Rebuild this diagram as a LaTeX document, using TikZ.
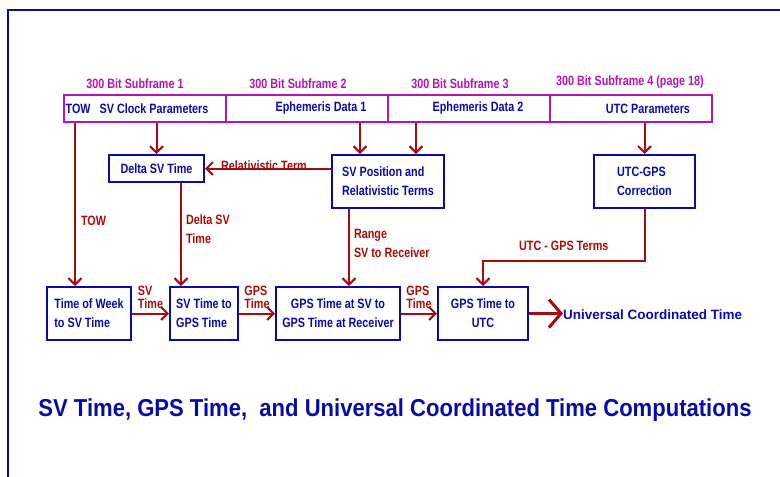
\documentclass[tikz,border=0pt]{standalone}
\usepackage{fontspec}
\setmainfont{Liberation Sans}
\newfontfamily\narrowsans[FakeStretch=0.8]{Liberation Sans}
\newfontfamily\titlesans[FakeStretch=0.9]{Liberation Sans}
\usepackage{xcolor}
\definecolor{boxblue}{RGB}{10,10,170}
\definecolor{linered}{RGB}{170,10,10}
\definecolor{framemag}{RGB}{180,20,180}
\usetikzlibrary{arrows.meta,positioning}
\tikzset{
  block/.style={draw=boxblue,line width=2pt,text=boxblue,fill=white,%
    font=\narrowsans\fontsize{13.5}{19}\selectfont\bfseries,inner sep=2pt,align=left},
  cell/.style={draw=framemag,line width=2pt,minimum width=162pt,%
    minimum height=27pt,inner sep=0pt},
  celltext/.style={text=boxblue,font=\narrowsans\fontsize{13.5}{14}\selectfont\bfseries,inner sep=0pt},
  hdr/.style={text=framemag,font=\narrowsans\fontsize{13.5}{14}\selectfont\bfseries,inner sep=1pt},
  tag/.style={text=linered,font=\narrowsans\fontsize{13.5}{19}\selectfont\bfseries,%
    inner sep=1pt,align=left},
  flow/.style={draw=linered,line width=2pt,%
    -{Straight Barb[length=6.5pt,width=13pt,line width=2pt]}},
}
\begin{document}
\begin{tikzpicture}[x=1pt,y=-1pt]
\useasboundingbox (0,0) rectangle (780,477);
\draw[boxblue,line width=2pt] (8,477) -- (8,10) -- (780,10);
% subframe bar
\node[cell,label={[celltext,xshift=-8pt]center:TOW\ \ \ SV Clock Parameters}] (sub1) at (145,108.5) {};
\node[cell,label={[celltext,xshift=14pt]center:Ephemeris Data 1}] (sub2) at (307,108.5) {};
\node[cell,label={[celltext,xshift=9pt]center:Ephemeris Data 2}] (sub3) at (469,108.5) {};
\node[cell,label={[celltext,xshift=17pt]center:UTC Parameters}] (sub4) at (631,108.5) {};
\node[hdr,above=4pt of sub1,xshift=-10pt] (hdr1) {300 Bit Subframe 1};
\node[hdr,above=4pt of sub2,xshift=-9pt] (hdr2) {300 Bit Subframe 2};
\node[hdr,above=4pt of sub3,xshift=-9pt] (hdr3) {300 Bit Subframe 3};
\node[hdr,above=4pt of sub4,xshift=-1pt] (hdr4) {300 Bit Subframe 4 (page 18)};
% middle row
\node[block,minimum width=95pt,minimum height=27pt] (delta) at (156.5,168.5) {Delta SV Time};
\node[block,minimum width=112pt,minimum height=53pt] (svpos) at (388,181.5) {SV Position and\\Relativistic Terms};
\node[block,minimum width=101pt,minimum height=53pt] (utcgps) at (644.5,181.5) {UTC-GPS\\Correction};
% bottom row
\node[block,minimum width=84pt,minimum height=53pt] (tow) at (89,313.5) {Time of Week\\to SV Time};
\node[block,minimum width=68pt,minimum height=53pt] (svgps) at (204,313.5) {SV Time to\\GPS Time};
\node[block,minimum width=124pt,minimum height=53pt,align=center] (gpsrx) at (338,313.5) {GPS Time at SV to\\GPS Time at Receiver};
\node[block,minimum width=90pt,minimum height=53pt,align=center] (gpsutc) at (483,313.5) {GPS Time to\\UTC};
\node[text=boxblue,font=\fontsize{13.5}{15}\selectfont\bfseries,inner sep=0pt,%
  right=34pt of gpsutc,yshift=-1.5pt] (uct) {Universal Coordinated Time};
\node[text=boxblue,font=\titlesans\fontsize{24.5}{28}\selectfont\bfseries,inner sep=0pt] (title) at (395,410)
  {SV Time, GPS Time,\ \ and Universal Coordinated Time Computations};
% arrows from the subframes
\draw[flow] (delta.north |- sub1.south) -- (delta.north);
\draw[flow] ([xshift=-28pt]svpos.north |- sub2.south) -- ([xshift=-28pt]svpos.north);
\draw[flow] ([xshift=28pt]svpos.north |- sub3.south) -- ([xshift=28pt]svpos.north);
\draw[flow] (utcgps.north |- sub4.south) -- (utcgps.north);
\draw[flow] ([xshift=-14pt]tow.north |- sub1.south) --
  node[tag,pos=0.6,right=4pt] {TOW} ([xshift=-14pt]tow.north);
% inner connections
\draw[flow] (delta.east -| svpos.west) --
  node[tag,above=-4pt,xshift=-4pt] {Relativistic Term} (delta.east);
\draw[flow] ([xshift=24.5pt]delta.south) --
  node[tag,pos=0.45,right=3pt] {Delta SV\\Time} ([xshift=24.5pt]delta.south |- svgps.north);
\draw[flow] ([xshift=-39pt]svpos.south) --
  node[tag,pos=0.45,right=3pt] {Range\\SV to Receiver} ([xshift=-39pt]svpos.south |- gpsrx.north);
\draw[flow] (utcgps.south) |- (gpsutc.north |- 0,261)
  node[tag,pos=0.75,above=8pt] {UTC - GPS Terms} -- (gpsutc.north);
% time chain
\tikzset{small/.style={tag,font=\narrowsans\fontsize{13.5}{13}\selectfont\bfseries}}
\draw[flow] (tow) -- node[small,above=3pt] {SV\\Time} (svgps);
\draw[flow] (svgps) -- node[small,above=3pt] {GPS\\Time} (gpsrx);
\draw[flow] (gpsrx) -- node[small,above=3pt] {GPS\\Time} (gpsutc);
\draw[draw=linered,line width=3pt,-{Straight Barb[length=12pt,width=28pt,line width=3pt]}]
  (gpsutc.east) -- (gpsutc.east -| uct.west);
\end{tikzpicture}
\end{document}
